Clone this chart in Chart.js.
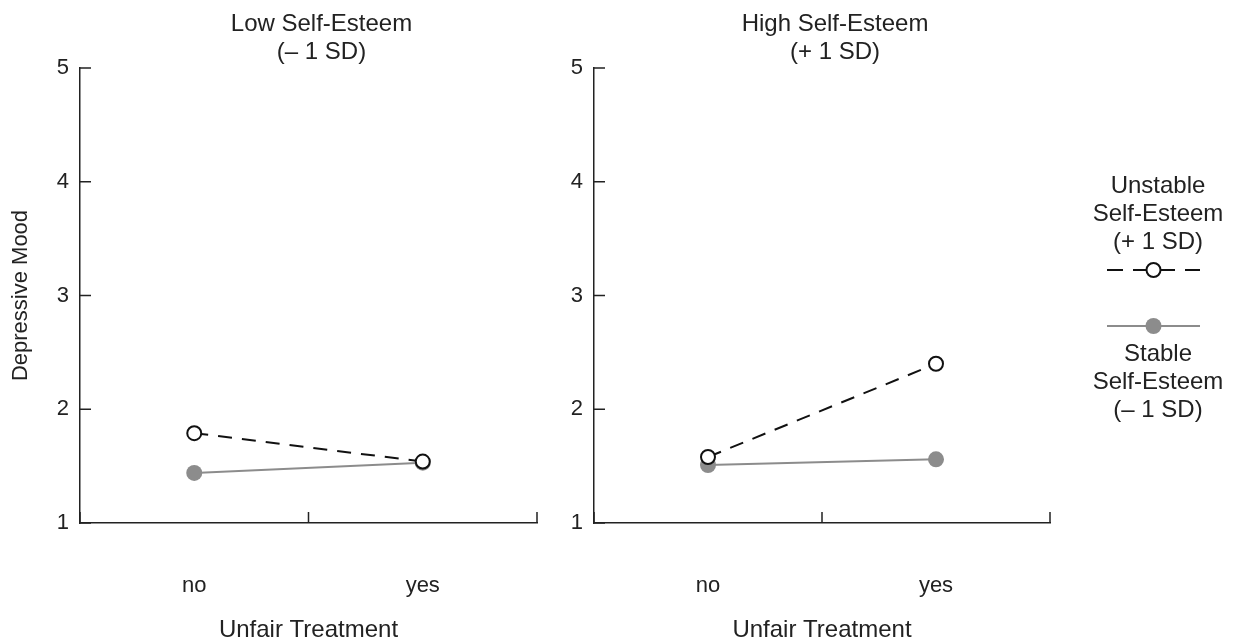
<!DOCTYPE html>
<html>
<head>
<meta charset="utf-8">
<script src="https://cdn.jsdelivr.net/npm/chart.js@4.4.1/dist/chart.umd.min.js"></script>
<style>
  body { margin: 0; background: #fff; width: 1234px; height: 640px; overflow: hidden; position: relative; }
  canvas { position: absolute; top: 0; }
  #left { left: 0; }
  #right { left: 514px; }
  .legend { position: absolute; left: 1085px; width: 146px; text-align: center;
    font-family: "Liberation Sans", Arial, sans-serif; font-size: 24px; line-height: 28px; color: #222; }
  .sym { position: absolute; left: 1105px; }
</style>
</head>
<body>
<canvas id="left" width="587" height="640"></canvas>
<canvas id="right" width="586" height="640"></canvas>

<div class="legend" style="top:171px">Unstable<br>Self-Esteem<br>(+ 1 SD)</div>
<svg class="sym" style="top:259px" width="100" height="22">
  <line x1="2" y1="11" x2="95" y2="11" stroke="#111" stroke-width="2" stroke-dasharray="16,10"></line>
  <circle cx="48.5" cy="11" r="7" fill="#fff" stroke="#111" stroke-width="2"></circle>
</svg>
<svg class="sym" style="top:315px" width="100" height="22">
  <line x1="2" y1="11" x2="95" y2="11" stroke="#8c8c8c" stroke-width="2"></line>
  <circle cx="48.5" cy="11" r="8" fill="#8c8c8c"></circle>
</svg>
<div class="legend" style="top:339px">Stable<br>Self-Esteem<br>(– 1 SD)</div>

<script>
// values
const xLabels = ['no', 'yes'];
const xPositions = [0.5, 1.5];
const yTicks = [1, 2, 3, 4, 5];

const lowUnstable = [1.79, 1.54];
const lowStable = [1.44, 1.53];
const highUnstable = [1.58, 2.40];
const highStable = [1.51, 1.56];

const lowTitle = ['Low Self-Esteem', '(– 1 SD)'];
const highTitle = ['High Self-Esteem', '(+ 1 SD)'];

const FONT = '"Liberation Sans", Arial, sans-serif';
const INK = '#222';
const GREY = '#8c8c8c';

// ticks drawn inward + two-line panel title
const panelDecor = {
  id: 'panelDecor',
  afterDraw(chart, args, opts) {
    const c = chart.ctx;
    const area = chart.chartArea;
    const xs = chart.scales.x;
    const ys = chart.scales.y;
    c.save();
    c.strokeStyle = INK;
    c.lineWidth = 1.5;
    c.beginPath();
    yTicks.forEach(v => {
      const py = ys.getPixelForValue(v);
      c.moveTo(area.left, py);
      c.lineTo(area.left + 11, py);
    });
    [0, 1, 2].forEach(v => {
      const px = xs.getPixelForValue(v);
      c.moveTo(px, area.bottom);
      c.lineTo(px, area.bottom - 11);
    });
    c.stroke();

    c.fillStyle = INK;
    c.font = '24px ' + FONT;
    c.textAlign = 'center';
    c.textBaseline = 'middle';
    const cx = (area.left + area.right) / 2 + 13;
    opts.lines.forEach((t, i) => c.fillText(t, cx, 24 + i * 28));
    c.restore();
  }
};

function toPoints(vals) {
  return vals.map((v, i) => ({ x: xPositions[i], y: v }));
}

// tick padding (50) also ends up as the right-hand padding, so canvas widths allow for it
function makePanel(id, unstable, stable, title, yTitle) {
  return new Chart(document.getElementById(id), {
    type: 'line',
    data: {
      datasets: [
        {
          label: 'Unstable Self-Esteem (+ 1 SD)',
          data: toPoints(unstable),
          borderColor: '#111',
          borderWidth: 2,
          borderDash: [14, 10],
          pointRadius: 7,
          pointBorderWidth: 2,
          pointBorderColor: '#111',
          pointBackgroundColor: '#fff',
          clip: false
        },
        {
          label: 'Stable Self-Esteem (– 1 SD)',
          data: toPoints(stable),
          borderColor: GREY,
          borderWidth: 2,
          pointRadius: 8,
          pointBorderWidth: 0,
          pointBackgroundColor: GREY,
          clip: false
        }
      ]
    },
    options: {
      responsive: false,
      animation: false,
      layout: { padding: { left: 0, right: 0, top: 68, bottom: 0 } },
      plugins: {
        legend: { display: false },
        tooltip: { enabled: false },
        panelDecor: { lines: title }
      },
      scales: {
        x: {
          type: 'linear',
          min: 0,
          max: 2,
          afterBuildTicks: s => { s.ticks = [0, 0.5, 1, 1.5, 2].map(v => ({ value: v })); },
          afterFit: s => { s.height = 117; },
          ticks: {
            autoSkip: false,
            maxRotation: 0,
            padding: 50,
            color: INK,
            font: { family: FONT, size: 22 },
            callback: v => {
              const i = xPositions.indexOf(v);
              return i >= 0 ? xLabels[i] : '';
            }
          },
          grid: { drawOnChartArea: false, drawTicks: false },
          border: { color: INK, width: 1.5 },
          title: {
            display: true,
            text: 'Unfair Treatment',
            color: INK,
            font: { family: FONT, size: 24, lineHeight: 0.8 },
            padding: { top: 0, bottom: 0 }
          }
        },
        y: {
          min: 1,
          max: 5,
          afterBuildTicks: s => { s.ticks = yTicks.map(v => ({ value: v })); },
          afterFit: s => { s.width = 80; },
          ticks: {
            padding: 11,
            color: INK,
            font: { family: FONT, size: 22 }
          },
          grid: { drawOnChartArea: false, drawTicks: false },
          border: { color: INK, width: 1.5 },
          title: {
            display: yTitle,
            text: 'Depressive Mood',
            color: INK,
            font: { family: FONT, size: 22, lineHeight: 1 },
            padding: { top: 10, bottom: 0 }
          }
        }
      }
    },
    plugins: [panelDecor]
  });
}

makePanel('left', lowUnstable, lowStable, lowTitle, true);
makePanel('right', highUnstable, highStable, highTitle, false);
</script>
</body>
</html>
